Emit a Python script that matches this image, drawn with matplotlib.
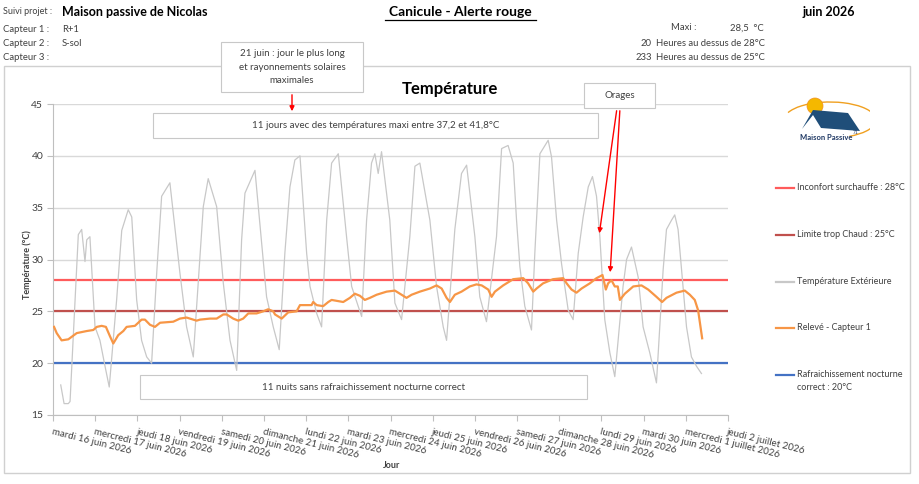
import matplotlib
matplotlib.use("Agg")
import matplotlib.pyplot as plt
from matplotlib.patches import Rectangle, FancyArrowPatch, Circle, Arc, Polygon
from matplotlib.lines import Line2D

plt.rcParams['font.family'] = ['Lato', 'DejaVu Sans']

# jours affichés sur l'axe des x
jours = ["mardi 16 juin 2026", "mercredi 17 juin 2026", "jeudi 18 juin 2026",
         "vendredi 19 juin 2026", "samedi 20 juin 2026", "dimanche 21 juin 2026",
         "lundi 22 juin 2026", "mardi 23 juin 2026", "mercredi 24 juin 2026",
         "jeudi 25 juin 2026", "vendredi 26 juin 2026", "samedi 27 juin 2026",
         "dimanche 28 juin 2026", "lundi 29 juin 2026", "mardi 30 juin 2026",
         "mercredi 1 juillet 2026", "jeudi 2 juillet 2026"]

# température extérieure (heures depuis le 16 juin 0h, °C)
ext_heures = [4.4, 6.3, 8.7, 9.7, 14.4, 16.3, 18.2, 19.2, 21.0, 23.9, 26.7, 29.6, 32.0,
              36.2, 39.1, 42.8, 44.8, 47.6, 50.4, 53.3, 56.1, 59.0, 61.8, 66.5, 72.2,
              76.0, 79.8, 85.5, 88.3, 93.1, 96.9, 100.7, 104.5, 107.3, 109.2, 114.9,
              121.5, 125.3, 128.7, 131.9, 134.8, 137.6, 140.5, 144.3, 146.2, 150.0,
              152.8, 155.7, 158.5, 162.3, 167.0, 169.9, 173.6, 175.6, 178.4, 181.2,
              183.1, 185.0, 186.9, 191.6, 194.5, 198.3, 203.0, 205.9, 208.7, 214.4,
              218.2, 222.0, 223.9, 228.6, 232.4, 235.3, 240.0, 242.8, 246.6, 252.3,
              255.2, 258.9, 261.8, 263.7, 265.6, 268.4, 272.2, 274.1, 277.0, 281.7,
              283.6, 286.5, 289.3, 293.1, 295.9, 298.8, 301.6, 304.5, 306.9, 309.2,
              311.1, 313.9, 316.8, 319.6, 324.3, 326.3, 329.1, 332.9, 335.7, 339.5,
              343.3, 347.1, 349.0, 351.9, 353.7, 355.6, 360.4, 363.2, 366.1, 368.9]
ext_temp = [17.9, 16.1, 16.1, 16.3, 32.4, 32.9, 29.8, 31.9, 32.2, 23.5, 22.2, 19.7, 17.7,
            26.1, 32.8, 34.8, 34.1, 26.1, 22.2, 20.6, 20.0, 28.7, 36.1, 37.4, 28.7,
            23.5, 20.6, 35.1, 37.8, 35.1, 27.7, 22.2, 19.3, 31.9, 36.4, 38.6,
            26.4, 23.5, 21.3, 30.6, 37.0, 39.6, 40.0, 30.6, 27.4, 24.8,
            23.5, 33.8, 39.3, 40.2, 32.2, 27.4, 25.5, 24.5, 33.8, 39.3,
            40.2, 38.3, 40.4, 33.8, 25.8, 24.2, 32.2, 39.0, 39.3, 33.8,
            27.4, 23.5, 22.2, 32.9, 38.3, 39.1, 32.2, 26.4, 24.0, 32.2,
            40.7, 41.0, 39.3, 33.8, 29.3, 25.5, 23.2, 30.6, 40.2, 41.5,
            39.9, 33.8, 29.6, 25.1, 24.2, 30.6, 34.1, 37.0, 38.0, 36.1,
            32.2, 24.2, 21.0, 18.7, 27.4, 30.0, 31.2, 28.3, 23.5, 21.0,
            18.1, 29.0, 32.9, 33.8, 34.3, 32.9, 23.5, 20.6, 19.7, 19.0]

# relevé capteur 1 (R+1)
capteur_heures = [0.6, 2.1, 4.9, 8.7, 13.5, 19.2, 22.9, 24.9, 27.7, 30.1, 32.4, 34.3, 37.1,
                  40.0, 41.9, 46.6, 50.4, 52.3, 55.2, 58.0, 60.9, 68.4, 72.2, 76.0, 79.8,
                  81.7, 83.6, 89.3, 93.1, 96.9, 98.8, 102.5, 105.4, 108.2, 111.1, 115.8,
                  119.6, 122.4, 125.3, 126.3, 130.1, 133.8, 138.6, 140.5, 147.1, 148.0,
                  150.0, 153.7, 156.6, 158.5, 165.1, 168.9, 171.7, 174.6, 177.4, 180.3,
                  184.1, 189.8, 194.5, 198.3, 201.1, 204.0, 208.7, 214.4, 218.2, 221.1,
                  223.9, 225.8, 228.6, 232.4, 237.1, 240.9, 243.9, 247.6, 249.5, 251.4,
                  256.1, 259.9, 261.8, 267.5, 270.3, 273.2, 275.1, 278.8, 284.5, 290.2,
                  292.2, 295.0, 297.8, 300.7, 305.4, 309.2, 312.6, 314.5, 315.8, 317.7,
                  319.6, 321.3, 322.5, 325.3, 330.1, 334.8, 338.6, 343.3, 346.5, 349.0,
                  354.7, 359.4, 362.3, 365.1, 367.0, 369.3]
capteur_temp = [23.5, 22.9, 22.2, 22.3, 22.9, 23.1, 23.2, 23.5, 23.6, 23.5, 22.6, 21.9, 22.7,
                23.1, 23.5, 23.6, 24.2, 24.2, 23.7, 23.5, 23.9, 24.0, 24.3, 24.4, 24.2,
                24.1, 24.2, 24.3, 24.3, 24.7, 24.7, 24.3, 24.1, 24.3, 24.8, 24.8,
                25.0, 25.2, 25.0, 24.7, 24.3, 24.9, 25.0, 25.6, 25.6, 25.9,
                25.6, 25.5, 25.9, 26.1, 25.9, 26.3, 26.7, 26.5, 26.1, 26.3,
                26.6, 26.9, 27.0, 26.6, 26.3, 26.6, 26.9, 27.2, 27.5, 27.2,
                26.3, 25.9, 26.6, 26.9, 27.4, 27.6, 27.5, 27.1, 26.4, 26.9,
                27.5, 27.9, 28.1, 28.2, 27.7, 26.9, 27.2, 27.7, 28.1, 28.2,
                27.7, 27.1, 26.8, 27.2, 27.7, 28.2, 28.5, 27.1, 27.7, 28.0,
                27.4, 27.4, 26.1, 26.7, 27.4, 27.5, 27.1, 26.4, 25.9, 26.3,
                26.8, 27.0, 26.6, 26.1, 25.1, 22.4]

# seuils
seuil_inconfort = 28
seuil_chaud = 25
seuil_nuit = 20

gris = '#BFBFBF'
c_inconfort = '#FF5B5B'
c_chaud = '#C0504D'
c_nuit = '#4472C4'
c_ext = '#C8C8C8'
c_capteur = '#F79646'
c_texte = '#404040'

W, H = 920, 484
def fx(p):
    return p / W
def fy(p):
    return 1 - p / H

fig = plt.figure(figsize=(9.2, 4.84), dpi=100)

# cadre du graphique
fig.add_artist(Rectangle((fx(4), fy(473)), fx(910) - fx(4), fy(66) - fy(473),
                         transform=fig.transFigure, facecolor='none',
                         edgecolor='#D0D0D0', lw=1, zorder=-1))

ax = fig.add_axes([fx(53), fy(415), fx(728) - fx(53), fy(104) - fy(415)])
ax.set_xlim(0, 16)
ax.set_ylim(15, 45)
ax.set_yticks([15, 20, 25, 30, 35, 40, 45])
ax.set_xticks(range(len(jours)))
ax.set_xticklabels(jours, rotation=-14, ha='left', va='top', rotation_mode='anchor',
                   fontsize=7, color=c_texte)
ax.tick_params(axis='y', labelsize=7.5, labelcolor=c_texte, color=gris, length=4, pad=3)
ax.tick_params(axis='x', color=gris, length=4, pad=5)
ax.grid(axis='y', color='#D9D9D9', lw=1)
ax.set_axisbelow(True)
for s in ['top', 'right']:
    ax.spines[s].set_visible(False)
for s in ['left', 'bottom']:
    ax.spines[s].set_color(gris)

ax.axhline(seuil_inconfort, color=c_inconfort, lw=1.6, zorder=2)
ax.axhline(seuil_chaud, color=c_chaud, lw=1.6, zorder=2)
ax.axhline(seuil_nuit, color=c_nuit, lw=1.6, zorder=2)
ax.plot([h / 24 for h in ext_heures], ext_temp, color=c_ext, lw=0.9, zorder=3)
ax.plot([h / 24 for h in capteur_heures], capteur_temp, color=c_capteur, lw=1.6, zorder=4)

# titres des axes
fig.text(fx(450), fy(89), 'Température', ha='center', va='center', fontsize=12,
         fontweight='bold', color='black')
fig.text(fx(27), fy(265), 'Température (°C)', ha='center', va='center', rotation=90,
         fontsize=6.5, fontweight='bold', color=c_texte)
fig.text(fx(392), fy(466), 'Jour', ha='center', va='center', fontsize=6.5,
         fontweight='bold', color=c_texte)

# en-tête
fig.text(fx(3), fy(12), 'Suivi projet :', ha='left', va='center', fontsize=6.5, color=c_texte)
fig.text(fx(62), fy(12), 'Maison passive de Nicolas', ha='left', va='center', fontsize=9,
         fontweight='bold', color='black')
fig.text(fx(460), fy(12), 'Canicule - Alerte rouge', ha='center', va='center', fontsize=10,
         fontweight='bold', color='black')
fig.add_artist(Line2D([fx(385), fx(536)], [fy(20), fy(20)], transform=fig.transFigure,
                      color='black', lw=0.9))
fig.text(fx(803), fy(12), 'juin 2026', ha='left', va='center', fontsize=9,
         fontweight='bold', color='black')
for i, (lab, val) in enumerate([('Capteur 1 :', 'R+1'), ('Capteur 2 :', 'S-sol'),
                                ('Capteur 3 :', '')]):
    y = 29 + 14 * i
    fig.text(fx(3), fy(y), lab, ha='left', va='center', fontsize=6.8, color=c_texte)
    fig.text(fx(62), fy(y), val, ha='left', va='center', fontsize=6.8, color=c_texte)

fig.text(fx(697), fy(28), 'Maxi :', ha='right', va='center', fontsize=6.8, color=c_texte)
fig.text(fx(730), fy(28), '28,5  °C', ha='left', va='center', fontsize=6.8, color=c_texte)
fig.text(fx(652), fy(43), '20', ha='right', va='center', fontsize=6.8, color=c_texte)
fig.text(fx(656), fy(43), 'Heures au dessus de 28°C', ha='left', va='center', fontsize=6.8,
         color=c_texte)
fig.text(fx(652), fy(57), '233', ha='right', va='center', fontsize=6.8, color=c_texte)
fig.text(fx(656), fy(57), 'Heures au dessus de 25°C', ha='left', va='center', fontsize=6.8,
         color=c_texte)

# zones de texte
def boite(x0, y0, x1, y1, texte):
    fig.add_artist(Rectangle((fx(x0), fy(y1)), fx(x1) - fx(x0), fy(y0) - fy(y1),
                             transform=fig.transFigure, facecolor='white',
                             edgecolor='#C8C8C8', lw=0.8, zorder=5))
    fig.text(fx((x0 + x1) / 2), fy((y0 + y1) / 2), texte, ha='center', va='center',
             fontsize=7, color=c_texte, linespacing=1.6, zorder=6)

def fleche(x0, y0, x1, y1):
    fig.add_artist(FancyArrowPatch((fx(x0), fy(y0)), (fx(x1), fy(y1)),
                                   transform=fig.transFigure, arrowstyle='-|>',
                                   mutation_scale=7, color='red', lw=1, zorder=7))

boite(221, 42, 363, 92, '21 juin : jour le plus long\net rayonnements solaires\nmaximales')
fleche(292, 92, 292, 114)
boite(153, 113, 598, 138, '11 jours avec des températures maxi entre 37,2 et 41,8°C')
boite(140, 375, 587, 399, '11 nuits sans rafraichissement nocturne correct')
boite(584, 83, 655, 108, 'Orages')
fleche(617, 108, 599, 236)
fleche(620, 108, 610, 275)

# légende
legende = [(c_inconfort, 'Inconfort surchauffe : 28°C', 188),
           (c_chaud, 'Limite trop Chaud : 25°C', 235),
           (c_ext, 'Température Extérieure', 282),
           (c_capteur, 'Relevé - Capteur 1', 328),
           (c_nuit, 'Rafraichissement nocturne\ncorrect : 20°C', 375)]
for couleur, texte, y in legende:
    fig.add_artist(Line2D([fx(776), fx(794)], [fy(y), fy(y)], transform=fig.transFigure,
                          color=couleur, lw=1.6))
    fig.text(fx(797), fy(y - 5), texte, ha='left', va='top', fontsize=6.5, color=c_texte,
             linespacing=1.5)

# logo Maison Passive
lg = fig.add_axes([fx(780), fy(145), fx(870) - fx(780), fy(95) - fy(145)])
lg.set_xlim(780, 870)
lg.set_ylim(145, 95)
lg.axis('off')
lg.add_patch(Arc((830, 120), 92, 36, theta1=190, theta2=40, color='#F0A020', lw=1))
lg.add_patch(Circle((815, 106), 8, facecolor='#F5B800', edgecolor='#F09020', lw=0.5))
lg.add_patch(Polygon([(802, 129), (813, 110), (848, 113), (860, 131), (821, 128), (813, 115)],
                     closed=True, facecolor='#1F4E79', edgecolor='none'))
lg.text(826, 138, 'Maison Passive', ha='center', va='center', fontsize=5.5,
        fontweight='bold', color='#1F3864')
lg.text(856, 132, '71', ha='center', va='center', fontsize=3.5, color='#1F3864')

fig.savefig('out.png', dpi=100)
